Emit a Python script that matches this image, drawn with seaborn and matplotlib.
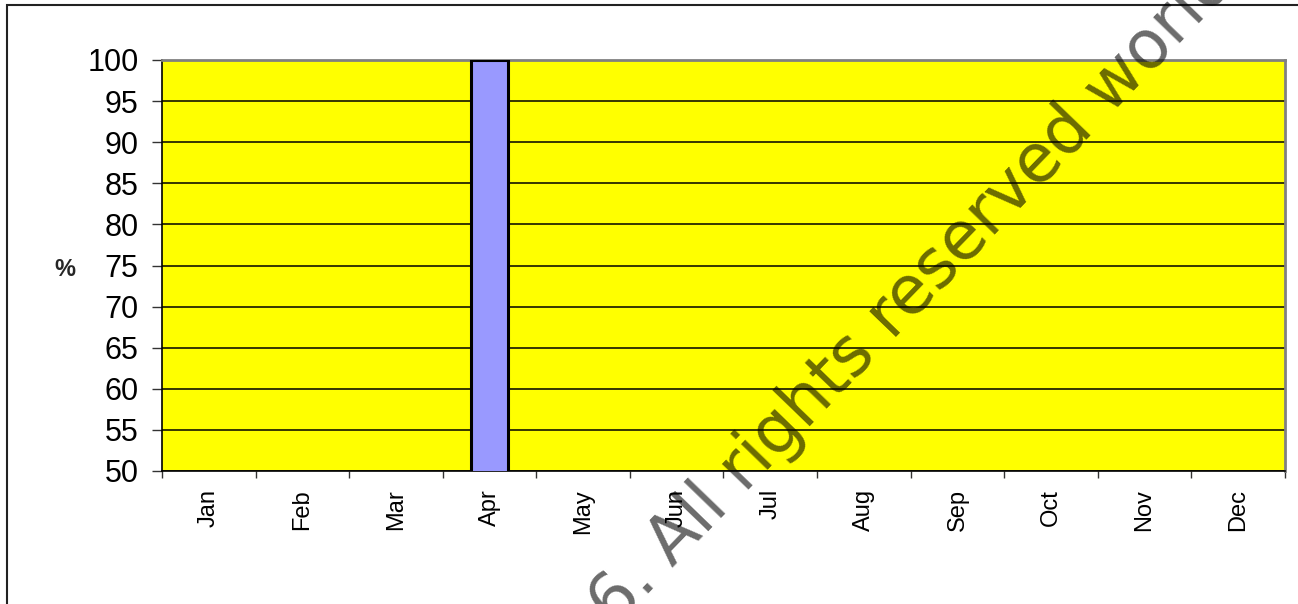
import numpy as np
import pandas as pd
import matplotlib
matplotlib.use("Agg")
import matplotlib.pyplot as plt
import seaborn as sns
from matplotlib.patches import Rectangle

months = ["Jan", "Feb", "Mar", "Apr", "May", "Jun",
          "Jul", "Aug", "Sep", "Oct", "Nov", "Dec"]
percent = [np.nan, np.nan, np.nan, 100, np.nan, np.nan,
           np.nan, np.nan, np.nan, np.nan, np.nan, np.nan]
y_ticks = list(range(50, 101, 5))

sns.set_theme(style="white")
plt.rcParams["font.family"] = ["Liberation Sans", "DejaVu Sans"]

W, H, DPI = 1298, 604, 100
fig = plt.figure(figsize=(W / DPI, H / DPI), dpi=DPI)
ax = fig.add_axes([162 / W, (H - 471) / H, (1285 - 162) / W, (471 - 60) / H])

df = pd.DataFrame({"month": months, "percent": percent})
sns.barplot(data=df, x="month", y="percent", color="#9999FF", saturation=1,
            width=0.4, edgecolor="black", linewidth=2.2, ax=ax, zorder=3)

ax.set_facecolor("#FFFF00")
ax.set_ylim(50, 100)
ax.set_xlim(-0.5, len(months) - 0.5)
ax.set_yticks(y_ticks)
ax.set_yticklabels([str(v) for v in y_ticks], fontsize=22)
ax.yaxis.grid(True, color="black", linewidth=1.1)
ax.xaxis.grid(False)
ax.set_axisbelow(True)
ax.set_xlabel("")
ax.set_ylabel("")

# month labels at bar centres, tick marks at category boundaries
ax.set_xticks(range(len(months)))
ax.set_xticklabels(months, rotation=90, fontsize=17, va="top", ha="center")
ax.set_xticks(np.arange(-0.5, len(months)), minor=True)
ax.tick_params(axis="x", which="major", length=0, pad=13, colors="black")
ax.tick_params(axis="x", which="minor", length=5, width=1, color="#333333",
               direction="out", bottom=True)
ax.tick_params(axis="y", which="major", length=7, width=1, color="#333333",
               direction="out", left=True, pad=10, labelcolor="black")

for side in ("left", "bottom"):
    ax.spines[side].set_color("black")
    ax.spines[side].set_linewidth(1.2)
for side in ("top", "right"):
    ax.spines[side].set_color("#808080")
    ax.spines[side].set_linewidth(2)
    ax.spines[side].set_visible(True)

fig.text(65 / W, (H - 270) / H, "%", fontsize=17, fontweight="bold",
         ha="center", va="center")

# outer chart border
fig.patches.append(Rectangle((7 / W, -0.2), 1.2, 1.2 - 5 / H,
                             transform=fig.transFigure, fill=False,
                             edgecolor="#222222", linewidth=1.5))

# diagonal watermark
angle = 46
wm_size = 48
ax_x, ax_y = 673 / W, (H - 568) / H
fig.text(ax_x, ax_y, "All rights reserved worldwide", fontsize=wm_size,
         family="DejaVu Sans", rotation=angle, rotation_mode="anchor",
         ha="left", va="baseline", color="black", alpha=0.58, zorder=10)
gap = 20
dx = gap * np.cos(np.radians(angle))
dy = gap * np.sin(np.radians(angle))
fig.text(ax_x - dx / W, ax_y - dy / H, "© 2006.", fontsize=wm_size,
         family="DejaVu Sans", rotation=angle, rotation_mode="anchor",
         ha="right", va="baseline", color="black", alpha=0.58, zorder=10)

fig.savefig("out.png", dpi=DPI, facecolor="white")
